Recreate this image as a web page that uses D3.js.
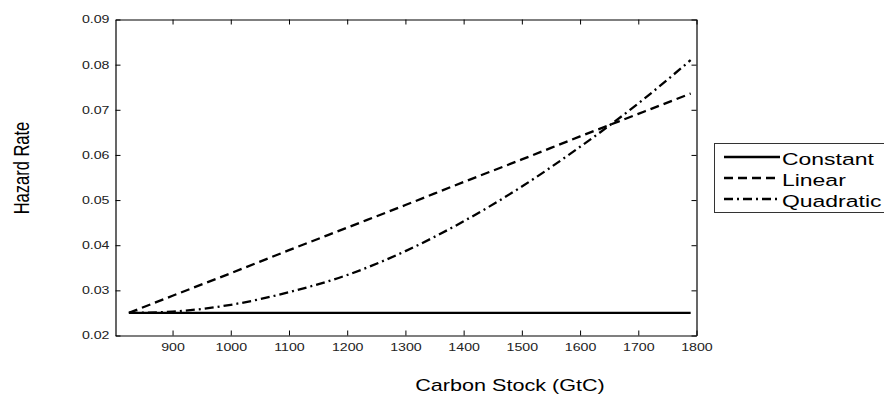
<!DOCTYPE html>
<html>
<head>
<meta charset="utf-8">
<script src="https://cdn.jsdelivr.net/npm/d3@7"></script>
<style>
  body { margin: 0; background: #fff; }
  svg { display: block; font-family: "Liberation Sans", Arial, sans-serif; }
</style>
</head>
<body>
<div id="chart"></div>
<script>
// values
const carbonStock = [825, 900, 1000, 1100, 1200, 1300, 1400, 1500, 1600, 1700, 1790];
const hazardConstant = [0.025, 0.025, 0.025, 0.025, 0.025, 0.025, 0.025, 0.025, 0.025, 0.025, 0.025];
const hazardLinear = [0.025, 0.0288, 0.0338, 0.0389, 0.0439, 0.0489, 0.054, 0.059, 0.0641, 0.0691, 0.0736];
const hazardQuadratic = [0.025, 0.0253, 0.0268, 0.0296, 0.0334, 0.0387, 0.0453, 0.053, 0.0618, 0.0714, 0.081];
const seriesNames = ["Constant", "Linear", "Quadratic"];
const xTicks = [900, 1000, 1100, 1200, 1300, 1400, 1500, 1600, 1700, 1800];
const yTicks = [0.02, 0.03, 0.04, 0.05, 0.06, 0.07, 0.08, 0.09];

const width = 884, height = 397;
const sx = 1.35; // the figure looks stretched sideways, text too
const dashes = [null, "9,5", "9,4,2,4"];

const svg = d3.select("#chart").append("svg")
    .attr("width", width)
    .attr("height", height);

const x = d3.scaleLinear().domain([802, 1800]).range([115.5, 696.5]);
const y = d3.scaleLinear().domain([0.02, 0.09]).range([335.5, 19.5]);

function stretchText(sel) {
    sel.each(function () {
        const t = d3.select(this);
        const tx = +t.attr("x") || 0;
        t.attr("x", tx / sx).attr("transform", `scale(${sx},1)`);
    });
}

// axes, MATLAB style box with inward ticks
const xAxis = svg.append("g")
    .attr("transform", `translate(0,${y.range()[0]})`)
    .call(d3.axisBottom(x).tickValues(xTicks).tickFormat(d3.format("d")).tickSizeInner(-5).tickSizeOuter(0).tickPadding(8));
const yAxis = svg.append("g")
    .attr("transform", `translate(${x.range()[0]},0)`)
    .call(d3.axisLeft(y).tickValues(yTicks).tickFormat(d3.format(".2f")).tickSizeInner(-5).tickSizeOuter(0).tickPadding(6));
svg.append("g")
    .attr("transform", `translate(0,${y.range()[1]})`)
    .call(d3.axisTop(x).tickValues(xTicks).tickFormat("").tickSizeInner(-5).tickSizeOuter(0));
svg.append("g")
    .attr("transform", `translate(${x.range()[1]},0)`)
    .call(d3.axisRight(y).tickValues(yTicks).tickFormat("").tickSizeInner(-5).tickSizeOuter(0));

svg.selectAll(".domain").attr("stroke", "#000").attr("stroke-width", 1.2);
svg.selectAll(".tick line").attr("stroke", "#000").attr("stroke-width", 1);
svg.selectAll(".tick text").attr("font-size", 10.5).attr("fill", "#222").attr("font-family", "Liberation Sans, Arial, sans-serif");
xAxis.selectAll(".tick text").call(stretchText);
yAxis.selectAll(".tick text").call(stretchText);

// lines
const series = [hazardConstant, hazardLinear, hazardQuadratic];
const line = d3.line()
    .x((d, i) => x(carbonStock[i]))
    .y(d => y(d))
    .curve(d3.curveMonotoneX);

svg.append("g").selectAll("path")
    .data(series)
    .enter()
    .append("path")
    .attr("d", line)
    .attr("fill", "none")
    .attr("stroke", "#000")
    .attr("stroke-width", 2.3)
    .attr("stroke-dasharray", (d, i) => dashes[i]);

// axis titles
svg.append("text")
    .attr("transform", `translate(510,391) scale(${sx},1)`)
    .attr("text-anchor", "middle")
    .attr("font-size", 16)
    .text("Carbon Stock (GtC)");

svg.append("text")
    .attr("transform", `translate(29,168) scale(${sx},1) rotate(-90)`)
    .attr("text-anchor", "middle")
    .attr("font-size", 16.5)
    .text("Hazard Rate");

// legend
const legend = svg.append("g");
legend.append("rect")
    .attr("x", 714.5).attr("y", 143.5)
    .attr("width", 200).attr("height", 69)
    .attr("fill", "#fff").attr("stroke", "#333").attr("stroke-width", 1);

const items = legend.selectAll("g.item")
    .data(seriesNames)
    .enter()
    .append("g")
    .attr("class", "item")
    .attr("transform", (d, i) => `translate(0,${157 + i * 21})`);

items.append("line")
    .attr("x1", 724).attr("x2", 780)
    .attr("stroke", "#000").attr("stroke-width", 2.3)
    .attr("stroke-dasharray", (d, i) => dashes[i]);

items.append("text")
    .attr("transform", `translate(782,8) scale(${sx},1)`)
    .attr("font-size", 17)
    .text(d => d);
</script>
</body>
</html>
